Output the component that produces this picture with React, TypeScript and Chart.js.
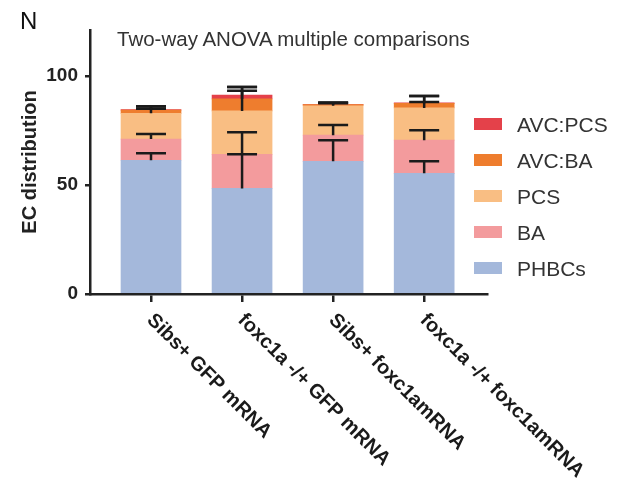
import React, { useEffect, useRef } from "react";
import { Chart, registerables } from "chart.js";

Chart.register(...registerables);

const categories = ["Sibs+ GFP mRNA", "foxc1a -/+ GFP mRNA", "Sibs+ foxc1amRNA", "foxc1a -/+ foxc1amRNA"];
const seriesNames = ["PHBCs", "BA", "PCS", "AVC:BA", "AVC:PCS"];
const seriesColors = ["#A4B8DB", "#F39B9D", "#F9BE83", "#EE7D2E", "#E4414A"];

const phbcs = [61.3, 48.4, 60.8, 55.3];
const ba = [9.7, 15.6, 12.0, 15.2];
const pcs = [11.8, 19.9, 13.5, 14.8];
const avcBa = [1.5, 5.5, 0.5, 2.1];
const avcPcs = [0.2, 1.8, 0.0, 0.2];

const phbcsErr = [3.2, 15.7, 9.7, 5.5];
const baErr = [2.3, 10.1, 4.7, 4.6];
const pcsErr = [2.1, 9.2, 1.5, 2.7];
const avcBaErr = [1.6, 5.5, 0.8, 3.4];
const avcPcsErr = [1.5, 3.7, 0.6, 3.2];

const yTicks = [0, 50, 100];
const yMax = 121;
const titleText = "Two-way ANOVA multiple comparisons";
const panelLetter = "N";
const yTitle = "EC distribution";

const seriesValues = [phbcs, ba, pcs, avcBa, avcPcs];
const seriesErrors = [phbcsErr, baErr, pcsErr, avcBaErr, avcPcsErr];

const FONT = '"Liberation Sans", Arial, Helvetica, sans-serif';

const errorBarPlugin = {
  id: "errorBars",
  afterDatasetsDraw(chart: any) {
    const { ctx } = chart;
    const yScale = chart.scales.y;
    ctx.save();
    ctx.strokeStyle = "#1b1b1b";
    ctx.lineWidth = 2.5;
    seriesValues.forEach((vals, d) => {
      const meta = chart.getDatasetMeta(d);
      vals.forEach((v, i) => {
        const e = seriesErrors[d][i];
        if (!e) return;
        let cum = 0;
        for (let k = 0; k <= d; k++) cum += seriesValues[k][i];
        const bar = meta.data[i];
        const px = bar.x;
        const y0 = yScale.getPixelForValue(cum);
        const y1 = yScale.getPixelForValue(cum + e);
        ctx.beginPath();
        ctx.moveTo(px, y0);
        ctx.lineTo(px, y1);
        ctx.moveTo(px - 15, y1);
        ctx.lineTo(px + 15, y1);
        ctx.stroke();
      });
    });
    ctx.restore();
  },
};

const xLabelPlugin = {
  id: "xLabels",
  afterDraw(chart: any) {
    const { ctx } = chart;
    const x = chart.scales.x;
    ctx.save();
    ctx.font = `bold 20px ${FONT}`;
    ctx.fillStyle = "#1a1a1a";
    ctx.textAlign = "left";
    ctx.textBaseline = "alphabetic";
    categories.forEach((label, i) => {
      const px = x.getPixelForValue(i);
      ctx.save();
      ctx.translate(px - 5, x.top + 27);
      ctx.rotate(Math.PI / 4);
      ctx.fillText(label, 0, 0);
      ctx.restore();
    });
    ctx.restore();
  },
};

export default function App() {
  const canvasRef = useRef<HTMLCanvasElement | null>(null);

  useEffect(() => {
    if (!canvasRef.current) return;
    const chart = new Chart(canvasRef.current, {
      type: "bar",
      data: {
        datasets: seriesNames.map((name, d) => ({
          label: name,
          data: seriesValues[d].map((v, i) => ({ x: i, y: v })),
          backgroundColor: seriesColors[d],
          borderWidth: 0,
          barThickness: 60,
        })),
      },
      options: {
        animation: false,
        responsive: false,
        layout: { padding: { left: 0, right: 132, top: 30, bottom: 0 } },
        plugins: {
          legend: { display: false },
          tooltip: { enabled: false },
          title: { display: false },
        },
        scales: {
          x: {
            type: "linear",
            stacked: true,
            offset: false,
            min: -0.67,
            max: 3.69,
            afterBuildTicks: (scale: any) => {
              scale.ticks = categories.map((_, i) => ({ value: i }));
            },
            afterFit: (scale: any) => {
              scale.height = 192;
            },
            ticks: { display: false },
            grid: {
              display: true,
              offset: false,
              drawOnChartArea: false,
              drawTicks: true,
              tickLength: 8,
              color: "#222",
              lineWidth: 2.5,
            },
            border: { display: true, color: "#222", width: 2.5 },
          },
          y: {
            type: "linear",
            stacked: true,
            min: 0,
            max: yMax,
            afterBuildTicks: (scale: any) => {
              scale.ticks = yTicks.map((v) => ({ value: v }));
            },
            afterFit: (scale: any) => {
              scale.width = 90;
            },
            ticks: {
              padding: 7,
              color: "#222",
              font: { family: FONT, size: 19, weight: "bold" },
            },
            grid: {
              display: true,
              drawOnChartArea: false,
              drawTicks: true,
              tickLength: 5,
              color: "#222",
              lineWidth: 2.5,
            },
            border: { display: true, color: "#222", width: 2.5 },
            title: {
              display: true,
              text: yTitle,
              color: "#222",
              font: { family: FONT, size: 20, weight: "bold" },
              padding: { top: 18, bottom: 0 },
            },
          },
        },
      },
      plugins: [errorBarPlugin, xLabelPlugin],
    } as any);
    return () => chart.destroy();
  }, []);

  const legendItems = seriesNames.map((n, i) => ({ name: n, color: seriesColors[i] })).reverse();

  return (
    <div style={{ position: "absolute", left: 0, top: 0, width: 619, height: 486, background: "#fff", overflow: "hidden" }}>
      <canvas ref={canvasRef} width={619} height={486} style={{ position: "absolute", left: 0, top: 0, width: 619, height: 486 }} />
      <div style={{ position: "absolute", left: 20, top: 9, fontFamily: FONT, fontSize: 24, lineHeight: "24px", color: "#111" }}>
        {panelLetter}
      </div>
      <div style={{ position: "absolute", left: 117, top: 29, fontFamily: FONT, fontSize: 20.5, lineHeight: "20px", color: "#333", whiteSpace: "nowrap" }}>
        {titleText}
      </div>
      <div style={{ position: "absolute", left: 474, top: 106 }}>
        {legendItems.map((it) => (
          <div key={it.name} style={{ display: "flex", alignItems: "center", height: 36 }}>
            <div style={{ width: 28, height: 12, background: it.color }} />
            <div style={{ marginLeft: 15, fontFamily: FONT, fontSize: 21, lineHeight: "21px", color: "#333", whiteSpace: "nowrap" }}>
              {it.name}
            </div>
          </div>
        ))}
      </div>
    </div>
  );
}
